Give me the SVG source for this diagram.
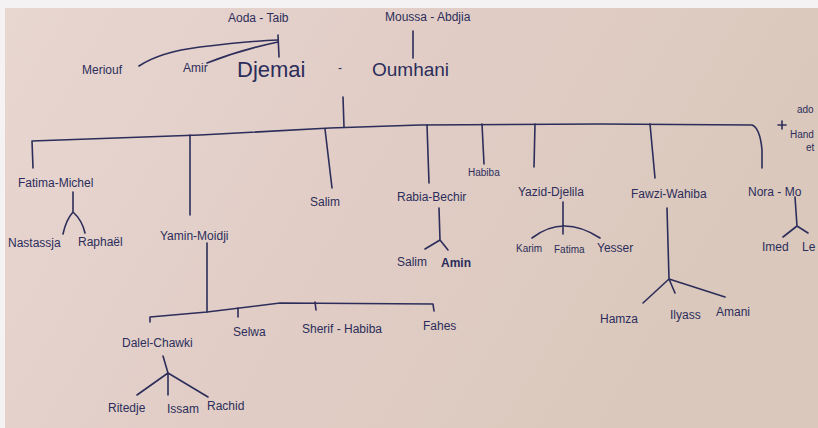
<svg xmlns="http://www.w3.org/2000/svg" width="818" height="428" viewBox="0 0 818 428">
<defs>
<linearGradient id="paper" x1="0" y1="0" x2="1" y2="0.3">
<stop offset="0" stop-color="#e8d6d1"/>
<stop offset="0.5" stop-color="#e1cdc6"/>
<stop offset="1" stop-color="#dac8bc"/>
</linearGradient>
<style>
.ln{fill:none;stroke:#2c2d5a;stroke-width:1.6;stroke-linecap:round;stroke-linejoin:round}
.t{font-family:"Liberation Sans","DejaVu Sans",sans-serif;font-size:12px;fill:#2c2d5a}
.s{font-size:10px}
.big{font-size:22px}
.mid{font-size:19px}
</style>
</defs>
<rect width="818" height="428" fill="#f4f2f2"/>
<rect x="5" y="8" width="813" height="420" fill="url(#paper)"/>

<g id="connectors">
<path class="ln" d="M278,35 L279,57"/>
<path class="ln" d="M139,66 Q160,52 200,47 Q250,41 278,40"/>
<path class="ln" d="M207,63 Q240,50 278,42"/>
<path class="ln" d="M413,31 L413,58"/>
<path class="ln" d="M343,97 L344,127"/>
<path class="ln" d="M33,168 L32,141 Q120,138 200,135 L330,128 L420,125 L600,124 L752,125 Q760,128 762,150 L762,168"/>
<path class="ln" d="M190,135 L190,215"/>
<path class="ln" d="M325,129 L332,188"/>
<path class="ln" d="M427,125 L429,183"/>
<path class="ln" d="M482,124 L484,164"/>
<path class="ln" d="M535,124 L534,167"/>
<path class="ln" d="M650,124 L655,178"/>
<path class="ln" d="M73,192 L73,212 M73,212 Q66,220 63,234 M73,212 Q82,220 85,233"/>
<path class="ln" d="M207,243 L207,312"/>
<path class="ln" d="M150,322 L150,317 L207,312 L280,303 L433,304 L434,311"/>
<path class="ln" d="M238,308 L238,317"/>
<path class="ln" d="M315,302 L316,310"/>
<path class="ln" d="M163,356 L168,373 M168,373 L137,395 M168,373 L168,395 M168,373 L208,397"/>
<path class="ln" d="M439,208 L440,240 M440,240 L425,249 M440,240 L448,250"/>
<path class="ln" d="M563,202 L563,234 M532,238 Q563,214 600,238"/>
<path class="ln" d="M667,208 L669,279 M669,279 L643,303 M669,279 L675,293 M669,279 L725,297"/>
<path class="ln" d="M795,197 L797,226 M797,226 L783,237 M797,226 L808,233"/>
<path class="ln" d="M782,121 L782,129 M778,125 L786,125"/>
</g>

<g id="aoda-taib"><text class="t" x="228" y="22">Aoda - Taib</text></g>
<g id="moussa-abdjia"><text class="t" x="385" y="21">Moussa - Abdjia</text></g>
<g id="meriouf"><text class="t" x="82" y="74">Meriouf</text></g>
<g id="amir"><text class="t" x="183" y="72">Amir</text></g>
<g id="djemai"><text class="t big" x="237" y="77">Djemai</text></g>
<g id="dash"><text class="t" x="338" y="72">-</text></g>
<g id="oumhani"><text class="t mid" x="372" y="76">Oumhani</text></g>

<g id="fatima-michel"><text class="t" x="18" y="187">Fatima-Michel</text></g>
<g id="nastassja"><text class="t" x="8" y="247">Nastassja</text></g>
<g id="raphael"><text class="t" x="78" y="246">Raphaël</text></g>
<g id="yamin-moidji"><text class="t" x="160" y="240">Yamin-Moidji</text></g>
<g id="dalel-chawki"><text class="t" x="122" y="347">Dalel-Chawki</text></g>
<g id="selwa"><text class="t" x="233" y="336">Selwa</text></g>
<g id="sherif-habiba"><text class="t" x="302" y="333">Sherif - Habiba</text></g>
<g id="fahes"><text class="t" x="423" y="330">Fahes</text></g>
<g id="ritedje"><text class="t" x="108" y="412">Ritedje</text></g>
<g id="issam"><text class="t" x="167" y="413">Issam</text></g>
<g id="rachid"><text class="t" x="207" y="410">Rachid</text></g>
<g id="salim"><text class="t" x="310" y="206">Salim</text></g>
<g id="rabia-bechir"><text class="t" x="397" y="201">Rabia-Bechir</text></g>
<g id="salim2"><text class="t" x="397" y="266">Salim</text></g>
<g id="amin"><text class="t" x="441" y="267" font-weight="bold">Amin</text></g>
<g id="habiba"><text class="t s" x="468" y="176">Habiba</text></g>
<g id="yazid-djelila"><text class="t" x="518" y="196">Yazid-Djelila</text></g>
<g id="karim"><text class="t s" x="516" y="252">Karim</text></g>
<g id="fatima"><text class="t s" x="554" y="253">Fatima</text></g>
<g id="yesser"><text class="t" x="597" y="252">Yesser</text></g>
<g id="fawzi-wahiba"><text class="t" x="631" y="198">Fawzi-Wahiba</text></g>
<g id="hamza"><text class="t" x="600" y="323">Hamza</text></g>
<g id="ilyass"><text class="t" x="670" y="319">Ilyass</text></g>
<g id="amani"><text class="t" x="716" y="316">Amani</text></g>
<g id="nora-mohamed"><text class="t" x="748" y="196">Nora - Mo</text></g>
<g id="imed"><text class="t" x="762" y="251">Imed</text></g>
<g id="lina"><text class="t" x="802" y="251">Le</text></g>
<g id="adopted"><text class="t s" x="797" y="113">ado</text><text class="t s" x="790" y="138">Hand</text><text class="t s" x="806" y="151">et</text></g>
</svg>
